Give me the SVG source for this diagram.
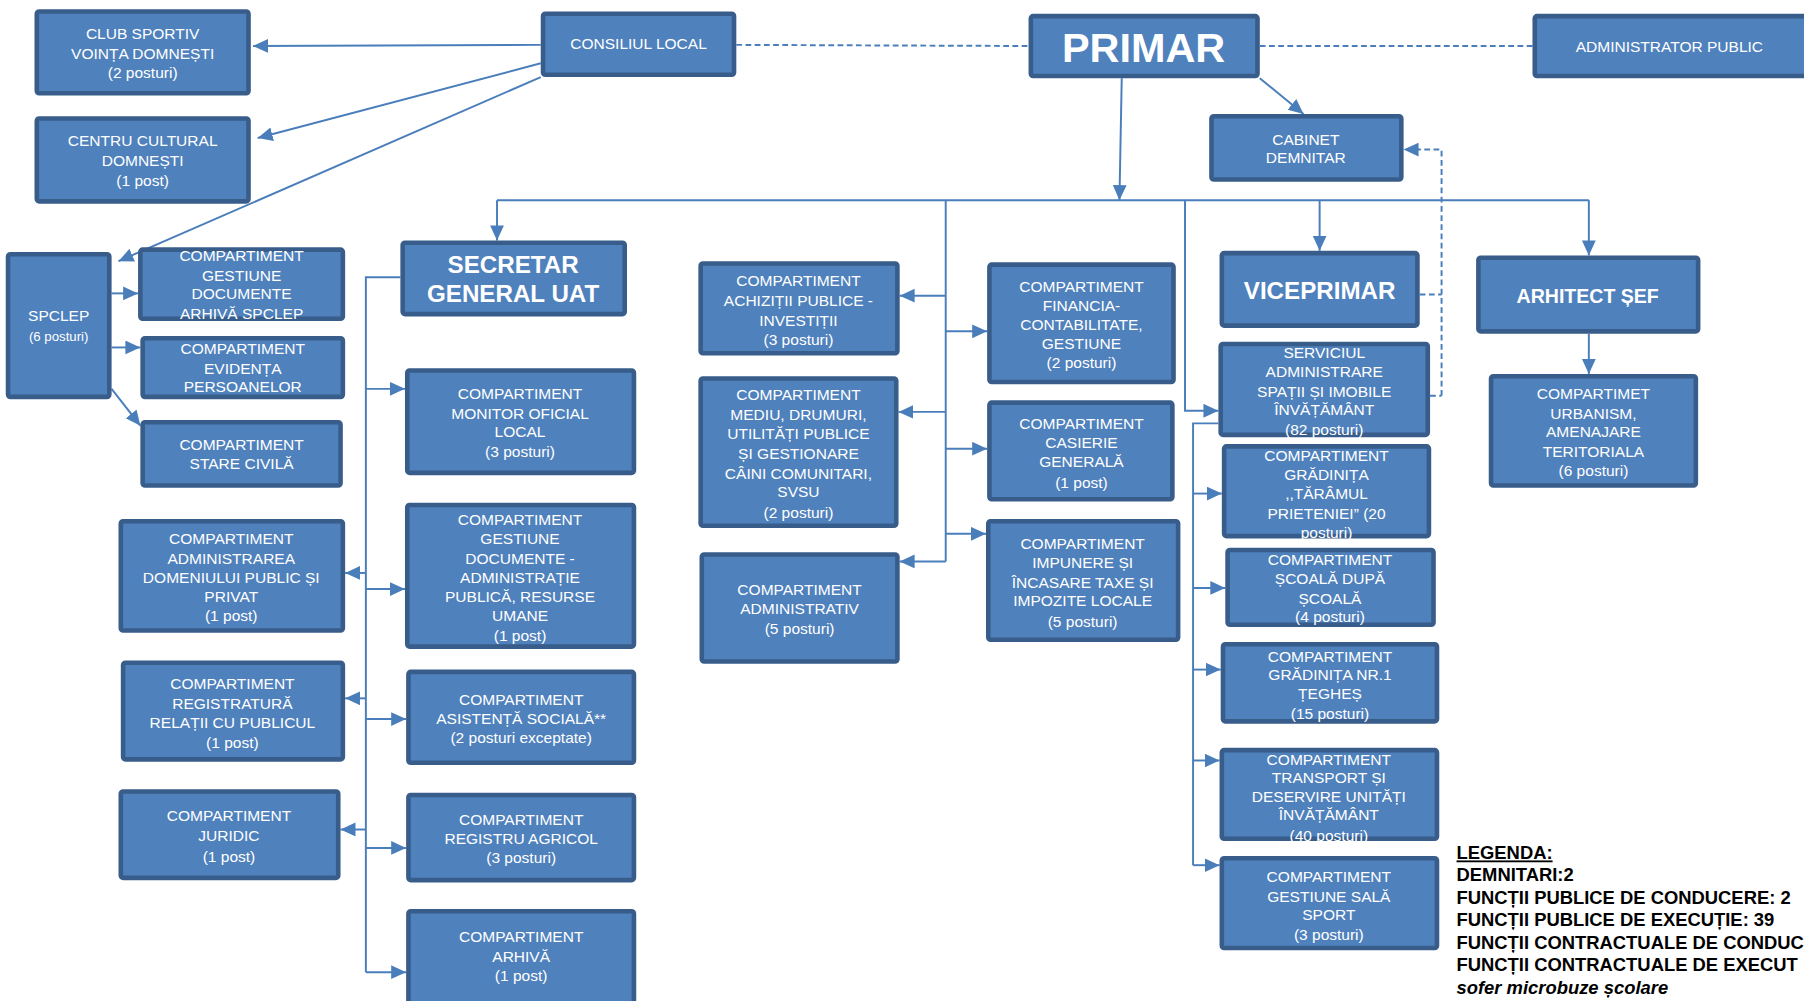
<svg xmlns="http://www.w3.org/2000/svg" width="1804" height="1001" viewBox="0 0 1804 1001">
<defs>
<style>
.box{fill:#4F81BD;stroke:#385D8A;stroke-width:4}
.t{font-family:"Liberation Sans",Arial,sans-serif;font-size:13.5px;fill:#FFFFFF;text-anchor:middle}
.bt{font-family:"Liberation Sans",Arial,sans-serif;font-weight:bold;fill:#FFFFFF;text-anchor:middle}
.c{stroke:#4A7EBB;stroke-width:1.7;fill:none}
.ca{stroke:#4A7EBB;stroke-width:1.7;fill:none;marker-end:url(#ah)}
.d{stroke:#4A7EBB;stroke-width:1.7;fill:none;stroke-dasharray:5 3}
.lg{font-family:"Liberation Sans",Arial,sans-serif;font-weight:bold;font-size:16px;fill:#000000}
</style>
<marker id="ah" markerUnits="userSpaceOnUse" markerWidth="14" markerHeight="13" refX="13" refY="6" orient="auto">
<path d="M0,0 L13,6 L0,12 z" fill="#4A7EBB"/>
</marker>
</defs>
<rect width="1804" height="1001" fill="#FFFFFF"/>
<g transform="scale(1.1505)">
<g id="connectors">
<path class="ca" d="M470,39 L220,40"/>
<path class="ca" d="M470,55 L224,120"/>
<path class="ca" d="M470,67 L103,227"/>
<path class="d" d="M640,39 L894,40"/>
<path class="d" d="M1095,40 L1332,40"/>
<path class="ca" d="M1095,68 L1133,99"/>
<path class="ca" d="M975,68 L973,174"/>
<path class="c" d="M432,174 L1381,174"/>
<path class="ca" d="M432,174 L432,209"/>
<path class="ca" d="M1147,174 L1147,218"/>
<path class="ca" d="M1381,174 L1381,222"/>
<path class="c" d="M822,174 L822,488"/>
<path class="ca" d="M822,257 L782,257"/>
<path class="ca" d="M822,358 L781,358"/>
<path class="ca" d="M822,488 L782,488"/>
<path class="ca" d="M822,288 L858,288"/>
<path class="ca" d="M822,390 L858,390"/>
<path class="ca" d="M822,464 L857,464"/>
<path class="ca" d="M1030,174 L1030,357 L1059,357"/>
<path class="c" d="M1059,368 L1037,368 L1037,752"/>
<path class="ca" d="M1037,429 L1062,429"/>
<path class="ca" d="M1037,511 L1065,511"/>
<path class="ca" d="M1037,582 L1061,582"/>
<path class="ca" d="M1037,661 L1060,661"/>
<path class="ca" d="M1037,752 L1060,752"/>
<path class="d" d="M1234,256 L1253,256"/>
<path class="d" d="M1243,344 L1253,344"/>
<path class="d" d="M1253,344 L1253,130 L1222,130"/>
<path d="M1220,130 L1233,124 L1233,136 z" fill="#4A7EBB"/>
<path class="ca" d="M97,255 L120,255"/>
<path class="ca" d="M97,302 L122,302"/>
<path class="ca" d="M97,338 L122,370"/>
<path class="c" d="M348,241 L318,241 L318,845"/>
<path class="ca" d="M318,338 L352,338"/>
<path class="ca" d="M318,512 L352,512"/>
<path class="ca" d="M318,625 L353,625"/>
<path class="ca" d="M318,737 L353,737"/>
<path class="ca" d="M318,845 L353,845"/>
<path class="ca" d="M318,498 L300,498"/>
<path class="ca" d="M318,607 L300,607"/>
<path class="ca" d="M318,721 L296,721"/>
<path class="ca" d="M1381,290 L1381,325"/>
</g>
<g id="club"><rect class="box" x="32" y="10" width="184" height="71" rx="2"/>
<text class="t" x="124" y="34">CLUB SPORTIV</text><text class="t" x="124" y="51">VOINȚA DOMNEȘTI</text><text class="t" x="124" y="68">(2 posturi)</text></g>
<g id="centru"><rect class="box" x="32" y="103" width="184" height="72" rx="2"/>
<text class="t" x="124" y="127">CENTRU CULTURAL</text><text class="t" x="124" y="144">DOMNEȘTI</text><text class="t" x="124" y="162">(1 post)</text></g>
<g id="consiliul"><rect class="box" x="472" y="12" width="166" height="53" rx="2"/>
<text class="t" x="555" y="43">CONSILIUL LOCAL</text></g>
<g id="primar"><rect class="box" x="896" y="14" width="197" height="52" rx="2"/>
<text class="bt" x="994" y="54" style="font-size:36px">PRIMAR</text></g>
<g id="administrator"><rect class="box" x="1334" y="14" width="244" height="52" rx="2"/>
<text class="t" x="1451" y="45">ADMINISTRATOR PUBLIC</text></g>
<g id="cabinet"><rect class="box" x="1053" y="101" width="165" height="55" rx="2"/>
<text class="t" x="1135" y="126">CABINET</text><text class="t" x="1135" y="142">DEMNITAR</text></g>
<g id="spclep"><rect class="box" x="7" y="221" width="88" height="124" rx="2"/>
<text class="t" x="51" y="279">SPCLEP</text><text class="t" x="51" y="296" style="font-size:11.5px">(6 posturi)</text></g>
<g id="gestiune-arhiva-spclep"><rect class="box" x="122" y="217" width="176" height="60" rx="2"/>
<text class="t" x="210" y="227">COMPARTIMENT</text><text class="t" x="210" y="244">GESTIUNE</text><text class="t" x="210" y="260">DOCUMENTE</text><text class="t" x="210" y="277">ARHIVĂ SPCLEP</text></g>
<g id="evidenta"><rect class="box" x="124" y="294" width="174" height="51" rx="2"/>
<text class="t" x="211" y="308">COMPARTIMENT</text><text class="t" x="211" y="325">EVIDENȚA</text><text class="t" x="211" y="341">PERSOANELOR</text></g>
<g id="stare-civila"><rect class="box" x="124" y="367" width="172" height="55" rx="2"/>
<text class="t" x="210" y="391">COMPARTIMENT</text><text class="t" x="210" y="408">STARE CIVILĂ</text></g>
<g id="secretar"><rect class="box" x="350" y="211" width="193" height="62" rx="2"/>
<text class="bt" x="446" y="237.5" style="font-size:21px">SECRETAR</text><text class="bt" x="446" y="262.5" style="font-size:21px">GENERAL UAT</text></g>
<g id="monitor"><rect class="box" x="354" y="322" width="197" height="89" rx="2"/>
<text class="t" x="452" y="347">COMPARTIMENT</text><text class="t" x="452" y="364">MONITOR OFICIAL</text><text class="t" x="452" y="380">LOCAL</text><text class="t" x="452" y="397">(3 posturi)</text></g>
<g id="gestiune-documente"><rect class="box" x="354" y="439" width="197" height="123" rx="2"/>
<text class="t" x="452" y="456">COMPARTIMENT</text><text class="t" x="452" y="473">GESTIUNE</text><text class="t" x="452" y="490">DOCUMENTE  -</text><text class="t" x="452" y="507">ADMINISTRAȚIE</text><text class="t" x="452" y="523">PUBLICĂ, RESURSE</text><text class="t" x="452" y="540">UMANE</text><text class="t" x="452" y="557">(1 post)</text></g>
<g id="asistenta"><rect class="box" x="355" y="584" width="196" height="79" rx="2"/>
<text class="t" x="453" y="613">COMPARTIMENT</text><text class="t" x="453" y="629">ASISTENȚĂ SOCIALĂ**</text><text class="t" x="453" y="646">(2 posturi exceptate)</text></g>
<g id="registru-agricol"><rect class="box" x="355" y="691" width="196" height="74" rx="2"/>
<text class="t" x="453" y="717">COMPARTIMENT</text><text class="t" x="453" y="734">REGISTRU AGRICOL</text><text class="t" x="453" y="750">(3 posturi)</text></g>
<g id="arhiva"><rect class="box" x="355" y="792" width="196" height="84" rx="2"/>
<text class="t" x="453" y="819">COMPARTIMENT</text><text class="t" x="453" y="836">ARHIVĂ</text><text class="t" x="453" y="853">(1 post)</text></g>
<g id="domeniu-public"><rect class="box" x="105" y="453" width="193" height="95" rx="2"/>
<text class="t" x="201" y="473">COMPARTIMENT</text><text class="t" x="201" y="490">ADMINISTRAREA</text><text class="t" x="201" y="507">DOMENIULUI PUBLIC ȘI</text><text class="t" x="201" y="523">PRIVAT</text><text class="t" x="201" y="540">(1 post)</text></g>
<g id="registratura"><rect class="box" x="107" y="576" width="191" height="84" rx="2"/>
<text class="t" x="202" y="599">COMPARTIMENT</text><text class="t" x="202" y="616">REGISTRATURĂ</text><text class="t" x="202" y="633">RELAȚII CU PUBLICUL</text><text class="t" x="202" y="650">(1 post)</text></g>
<g id="juridic"><rect class="box" x="105" y="688" width="189" height="75" rx="2"/>
<text class="t" x="199" y="714">COMPARTIMENT</text><text class="t" x="199" y="731">JURIDIC</text><text class="t" x="199" y="749">(1 post)</text></g>
<g id="achizitii"><rect class="box" x="609" y="229" width="171" height="78" rx="2"/>
<text class="t" x="694" y="249">COMPARTIMENT</text><text class="t" x="694" y="266">ACHIZIȚII PUBLICE -</text><text class="t" x="694" y="283">INVESTIȚII</text><text class="t" x="694" y="300">(3 posturi)</text></g>
<g id="mediu"><rect class="box" x="609" y="329" width="170" height="128" rx="2"/>
<text class="t" x="694" y="348">COMPARTIMENT</text><text class="t" x="694" y="365">MEDIU, DRUMURI,</text><text class="t" x="694" y="382">UTILITĂȚI PUBLICE</text><text class="t" x="694" y="399">ȘI GESTIONARE</text><text class="t" x="694" y="416">CÂINI COMUNITARI,</text><text class="t" x="694" y="432">SVSU</text><text class="t" x="694" y="450">(2 posturi)</text></g>
<g id="administrativ"><rect class="box" x="610" y="482" width="170" height="93" rx="2"/>
<text class="t" x="695" y="517">COMPARTIMENT</text><text class="t" x="695" y="534">ADMINISTRATIV</text><text class="t" x="695" y="551">(5 posturi)</text></g>
<g id="financiar"><rect class="box" x="860" y="230" width="160" height="102" rx="2"/>
<text class="t" x="940" y="254">COMPARTIMENT</text><text class="t" x="940" y="270">FINANCIA-</text><text class="t" x="940" y="287">CONTABILITATE,</text><text class="t" x="940" y="303">GESTIUNE</text><text class="t" x="940" y="320">(2 posturi)</text></g>
<g id="casierie"><rect class="box" x="860" y="350" width="159" height="84" rx="2"/>
<text class="t" x="940" y="373">COMPARTIMENT</text><text class="t" x="940" y="389">CASIERIE</text><text class="t" x="940" y="406">GENERALĂ</text><text class="t" x="940" y="424">(1 post)</text></g>
<g id="impunere"><rect class="box" x="859" y="453" width="165" height="103" rx="2"/>
<text class="t" x="941" y="477">COMPARTIMENT</text><text class="t" x="941" y="494">IMPUNERE  ȘI</text><text class="t" x="941" y="511">ÎNCASARE  TAXE ȘI</text><text class="t" x="941" y="527">IMPOZITE LOCALE</text><text class="t" x="941" y="545">(5 posturi)</text></g>
<g id="viceprimar"><rect class="box" x="1062" y="220" width="170" height="63" rx="2"/>
<text class="bt" x="1147" y="259.5" style="font-size:21px">VICEPRIMAR</text></g>
<g id="serviciul"><rect class="box" x="1061" y="299" width="180" height="79" rx="2"/>
<text class="t" x="1151" y="311">SERVICIUL</text><text class="t" x="1151" y="328">ADMINISTRARE</text><text class="t" x="1151" y="345">SPAȚII ȘI IMOBILE</text><text class="t" x="1151" y="361">ÎNVĂȚĂMÂNT</text><text class="t" x="1151" y="378">(82 posturi)</text></g>
<g id="gradinita-taramul"><rect class="box" x="1064" y="388" width="178" height="78" rx="2"/>
<text class="t" x="1153" y="401">COMPARTIMENT</text><text class="t" x="1153" y="417">GRĂDINIȚA</text><text class="t" x="1153" y="434">,,TĂRÂMUL</text><text class="t" x="1153" y="451">PRIETENIEI” (20</text><text class="t" x="1153" y="468">posturi)</text></g>
<g id="scoala-dupa-scoala"><rect class="box" x="1067" y="478" width="179" height="65" rx="2"/>
<text class="t" x="1156" y="491">COMPARTIMENT</text><text class="t" x="1156" y="508">ȘCOALĂ DUPĂ</text><text class="t" x="1156" y="525">ȘCOALĂ</text><text class="t" x="1156" y="541">(4 posturi)</text></g>
<g id="gradinita-nr1"><rect class="box" x="1063" y="560" width="186" height="67" rx="2"/>
<text class="t" x="1156" y="575">COMPARTIMENT</text><text class="t" x="1156" y="591">GRĂDINIȚA NR.1</text><text class="t" x="1156" y="608">ȚEGHEȘ</text><text class="t" x="1156" y="625">(15 posturi)</text></g>
<g id="transport"><rect class="box" x="1062" y="652" width="187" height="77" rx="2"/>
<text class="t" x="1155" y="665">COMPARTIMENT</text><text class="t" x="1155" y="681">TRANSPORT ȘI</text><text class="t" x="1155" y="697">DESERVIRE UNITĂȚI</text><text class="t" x="1155" y="713">ÎNVĂȚĂMÂNT</text><text class="t" x="1155" y="731">(40 posturi)</text></g>
<g id="sala-sport"><rect class="box" x="1062" y="746" width="187" height="78" rx="2"/>
<text class="t" x="1155" y="767">COMPARTIMENT</text><text class="t" x="1155" y="784">GESTIUNE SALĂ</text><text class="t" x="1155" y="800">SPORT</text><text class="t" x="1155" y="817">(3 posturi)</text></g>
<g id="arhitect"><rect class="box" x="1285" y="224" width="191" height="64" rx="2"/>
<text class="bt" x="1380" y="263" style="font-size:17px">ARHITECT ȘEF</text></g>
<g id="urbanism"><rect class="box" x="1296" y="327" width="178" height="95" rx="2"/>
<text class="t" x="1385" y="347">COMPARTIMET</text><text class="t" x="1385" y="364">URBANISM,</text><text class="t" x="1385" y="380">AMENAJARE</text><text class="t" x="1385" y="397">TERITORIALA</text><text class="t" x="1385" y="414">(6 posturi)</text></g>
<g id="legenda">
<text class="lg" x="1266" y="747" text-decoration="underline">LEGENDA:</text>
<text class="lg" x="1266" y="766">DEMNITARI:2</text>
<text class="lg" x="1266" y="786">FUNCȚII PUBLICE DE CONDUCERE: 2</text>
<text class="lg" x="1266" y="805">FUNCȚII PUBLICE DE EXECUȚIE: 39</text>
<text class="lg" x="1266" y="825">FUNCȚII CONTRACTUALE DE CONDUC</text>
<text class="lg" x="1266" y="844">FUNCȚII CONTRACTUALE DE EXECUT</text>
<text class="lg" x="1266" y="864" font-style="italic">sofer microbuze școlare</text>
</g>
</g>
</svg>
